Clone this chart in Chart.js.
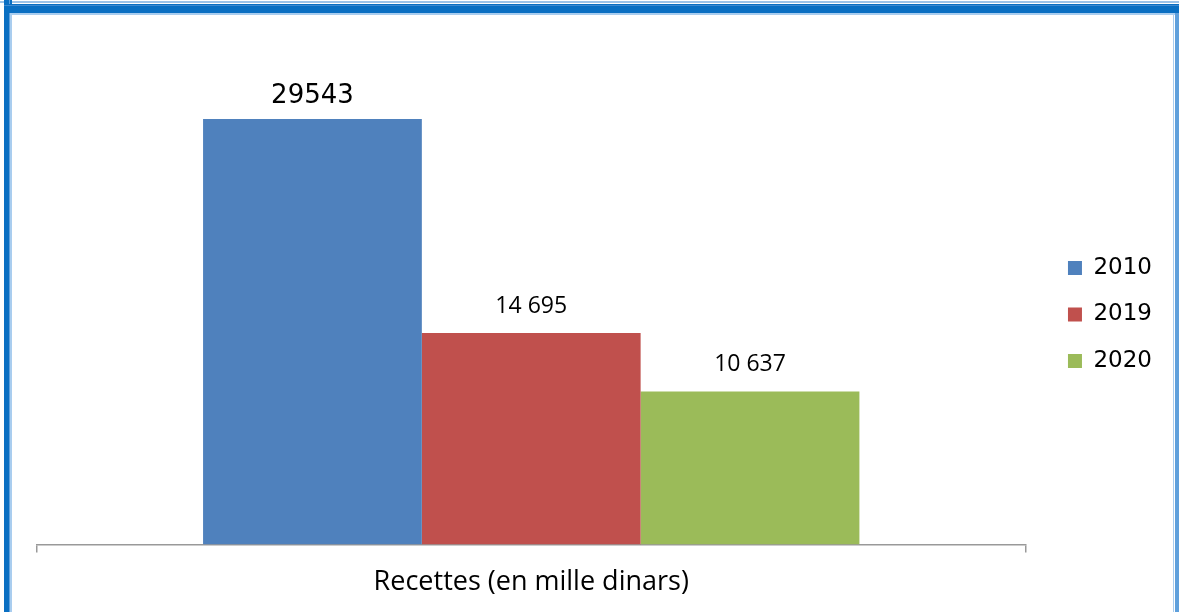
<!DOCTYPE html>
<html>
<head>
<meta charset="utf-8">
<script src="https://cdn.jsdelivr.net/npm/chart.js@4/dist/chart.umd.min.js"></script>
<style>
  html, body { margin: 0; padding: 0; background: #fff; }
  #wrap { position: relative; width: 1179px; height: 612px; overflow: hidden; background: #fff; }
  canvas { position: absolute; left: 0; top: 0; }
  .f { position: absolute; }
</style>
</head>
<body>
<div id="wrap">
  <canvas id="c" width="1179" height="612"></canvas>
  <!-- window frame -->
  <div class="f" style="left:0;top:1px;width:1179px;height:2px;background:#9cc3e8"></div>
  <div class="f" style="left:4px;top:0;width:8px;height:612px;background:#0a6fc2"></div>
  <div class="f" style="left:9px;top:0;width:1px;height:612px;background:#5fa0dc"></div>
  <div class="f" style="left:10px;top:14px;width:2px;height:598px;background:#a9cdef"></div>
  <div class="f" style="left:4px;top:4px;width:1175px;height:9px;background:#0a6fc2"></div>
  <div class="f" style="left:4px;top:5px;width:1175px;height:1px;background:#3f8ad0"></div>
  <div class="f" style="left:10px;top:13px;width:1169px;height:2px;background:#a9cdef"></div>
  <div class="f" style="left:1173px;top:13px;width:1px;height:599px;background:#a9cdef"></div>
  <div class="f" style="left:1175px;top:13px;width:4px;height:599px;background:#5fa0dc"></div>
</div>
<script>
const categories = ["Recettes (en mille dinars)"];
const seriesNames = ["2010", "2019", "2020"];
const values2010 = [29543];
const values2019 = [14695];
const values2020 = [10637];
const valueLabels2010 = ["29543"];
const valueLabels2019 = ["14 695"];
const valueLabels2020 = ["10 637"];
const colors = ["#4F81BD", "#C0504D", "#9BBB59"];

const labelSets = [valueLabels2010, valueLabels2019, valueLabels2020];
const labelFonts = ["26px 'DejaVu Sans'", "23px 'Open Sans'", "23px 'Open Sans'"];
const labelOffsets = [23, 26, 27];

const valueLabelPlugin = {
  id: 'valueLabels',
  afterDatasetsDraw(chart) {
    const ctx = chart.ctx;
    ctx.save();
    ctx.fillStyle = '#000';
    ctx.textAlign = 'center';
    ctx.textBaseline = 'middle';
    chart.data.datasets.forEach((ds, i) => {
      const meta = chart.getDatasetMeta(i);
      meta.data.forEach((bar, j) => {
        ctx.font = labelFonts[i];
        ctx.fillText(labelSets[i][j], bar.x, bar.y - labelOffsets[i]);
      });
    });
    ctx.restore();
  }
};

new Chart(document.getElementById('c'), {
  type: 'bar',
  data: {
    labels: categories,
    datasets: [
      { label: seriesNames[0], data: values2010, backgroundColor: colors[0] },
      { label: seriesNames[1], data: values2019, backgroundColor: colors[1] },
      { label: seriesNames[2], data: values2020, backgroundColor: colors[2] }
    ]
  },
  options: {
    responsive: false,
    animation: false,
    devicePixelRatio: 1,
    layout: { padding: { left: 37, top: 16, right: 17, bottom: -1 } },
    datasets: { bar: { categoryPercentage: 0.664, barPercentage: 1.0 } },
    scales: {
      x: {
        grid: { display: true, drawOnChartArea: false, drawTicks: true, tickLength: 8, color: '#999999', lineWidth: 1.5 },
        border: { display: true, color: '#999999', width: 1.5 },
        ticks: { color: '#000', font: { family: 'Open Sans', size: 27 }, padding: 14 }
      },
      y: {
        position: 'right',
        min: 0,
        max: 36700,
        grid: { display: false },
        border: { display: false },
        ticks: { display: false },
        afterFit(scale) { scale.width = 19; }
      }
    },
    plugins: {
      legend: {
        position: 'right',
        align: 'center',
        labels: {
          boxWidth: 14,
          boxHeight: 14,
          padding: 23.5,
          color: '#000',
          font: { family: 'DejaVu Sans', size: 23 }
        }
      },
      tooltip: { enabled: false }
    }
  },
  plugins: [valueLabelPlugin]
});
</script>
</body>
</html>
